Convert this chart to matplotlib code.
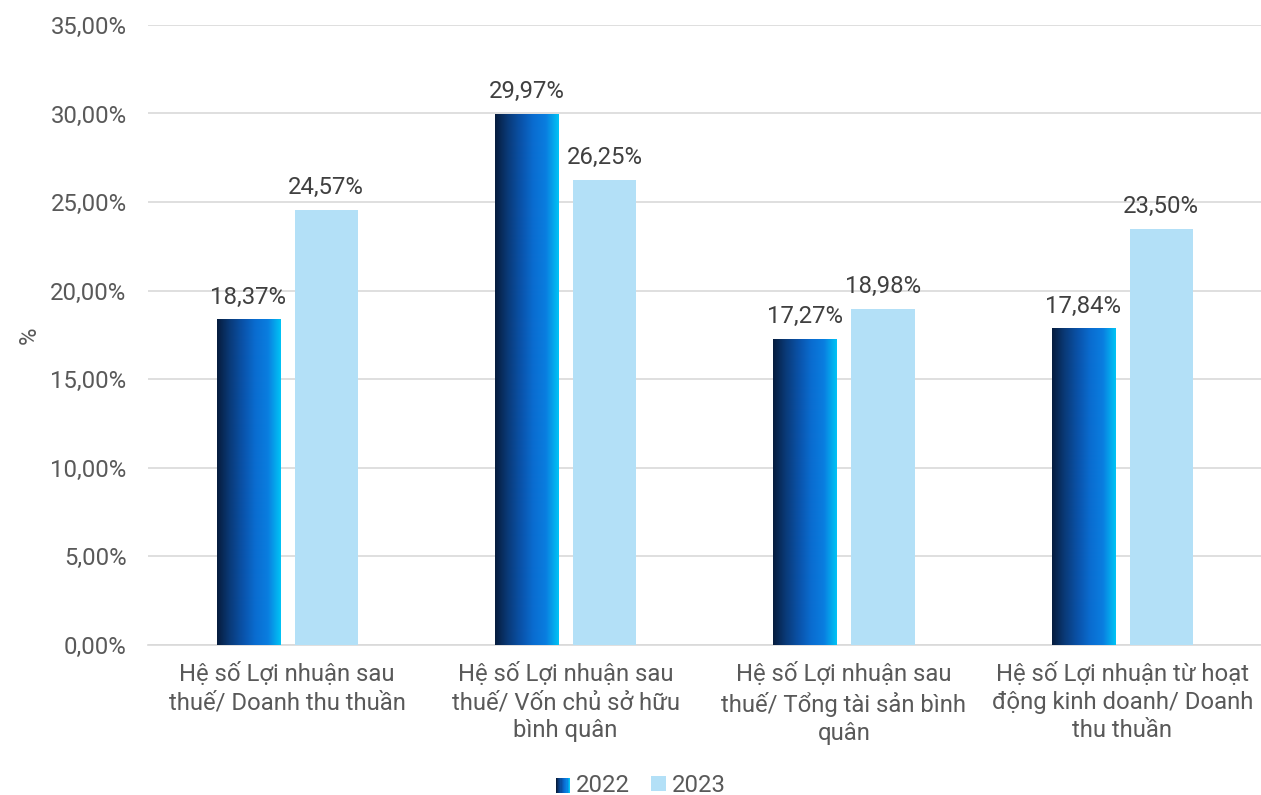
import numpy as np
import matplotlib
matplotlib.use('Agg')
import matplotlib.pyplot as plt
import matplotlib.ticker as mticker
from matplotlib.colors import LinearSegmentedColormap
from matplotlib.patches import Rectangle
from matplotlib.legend_handler import HandlerBase

plt.rcParams['font.family'] = ['Roboto', 'DejaVu Sans']

categories = [
    'Hệ số Lợi nhuận sau\nthuế/ Doanh thu thuần',
    'Hệ số Lợi nhuận sau\nthuế/ Vốn chủ sở hữu\nbình quân',
    'Hệ số Lợi nhuận sau\nthuế/ Tổng tài sản bình\nquân',
    'Hệ số Lợi nhuận từ hoạt\nđộng kinh doanh/ Doanh\nthu thuần',
]
values_2022 = [18.37, 29.97, 17.27, 17.84]
values_2023 = [24.57, 26.25, 18.98, 23.50]
series_names = ['2022', '2023']

text_color = '#595959'
light_blue = '#b3e0f7'
grad_cmap = LinearSegmentedColormap.from_list(
    'bar2022', ['#061c3d', '#0a3a78', '#0a52a8', '#0a6cd0', '#0a7ee0', '#00c4f5'])
fs = 17.2


def fmt_pct(v):
    return f'{v:.2f}'.replace('.', ',') + '%'


class GradientHandler(HandlerBase):
    def create_artists(self, legend, orig_handle, xdescent, ydescent,
                       width, height, fontsize, trans):
        n = 12
        arts = []
        for i in range(n):
            r = Rectangle((xdescent + width * i / n, ydescent), width / n + 0.3, height,
                          facecolor=grad_cmap(i / (n - 1)), edgecolor='none',
                          transform=trans)
            arts.append(r)
        return arts


fig = plt.figure(figsize=(12.61, 7.95), dpi=100)
ax = fig.add_axes([0.1174, 0.1887, 0.883, 0.78])

x = np.arange(len(categories))
w = 0.227
off = 0.14

# 2022 bars with horizontal gradient
grad = np.linspace(0, 1, 256).reshape(1, -1)
for xi, v in zip(x, values_2022):
    x0 = xi - off - w / 2
    ax.imshow(grad, extent=[x0, x0 + w, 0, v], aspect='auto', cmap=grad_cmap,
              origin='lower', zorder=3, interpolation='bicubic')
    ax.text(xi - off, v + 0.6, fmt_pct(v), ha='center', va='bottom',
            fontsize=fs, color='#404040')

bars23 = ax.bar(x + off, values_2023, w, color=light_blue, zorder=3)
for xi, v in zip(x, values_2023):
    ax.text(xi + off, v + 0.6, fmt_pct(v), ha='center', va='bottom',
            fontsize=fs, color='#404040')

ax.set_xlim(-0.5, len(categories) - 0.5)
ax.set_ylim(0, 35)
ax.yaxis.set_major_locator(mticker.MultipleLocator(5))
ax.yaxis.set_major_formatter(mticker.FuncFormatter(lambda v, p: fmt_pct(v)))
ax.grid(axis='y', color='#d9d9d9', linewidth=1.2, zorder=0)
ax.set_axisbelow(True)

ax.set_xticks(x)
ax.set_xticklabels(categories, fontsize=fs, color=text_color, linespacing=1.3)
ax.tick_params(axis='x', length=0, pad=12)
ax.tick_params(axis='y', length=0, pad=15.5, labelsize=fs, labelcolor=text_color)
for s in ['top', 'right', 'left']:
    ax.spines[s].set_visible(False)
ax.spines['bottom'].set_color('#d9d9d9')
ax.spines['bottom'].set_linewidth(1.2)

ax.set_ylabel('%', fontsize=fs, color=text_color)
ax.yaxis.set_label_coords(41 / 1261, 1 - 335 / 795, transform=fig.transFigure)

dummy = Rectangle((0, 0), 1, 1)
fig.legend([dummy, bars23], series_names, handler_map={dummy: GradientHandler()},
           loc='center', bbox_to_anchor=(0.508, 0.012), ncol=2, frameon=False,
           fontsize=fs, labelcolor=text_color, handlelength=0.6, handleheight=0.6,
           handletextpad=0.25, columnspacing=0.9)

fig.savefig('out.png', dpi=100)
